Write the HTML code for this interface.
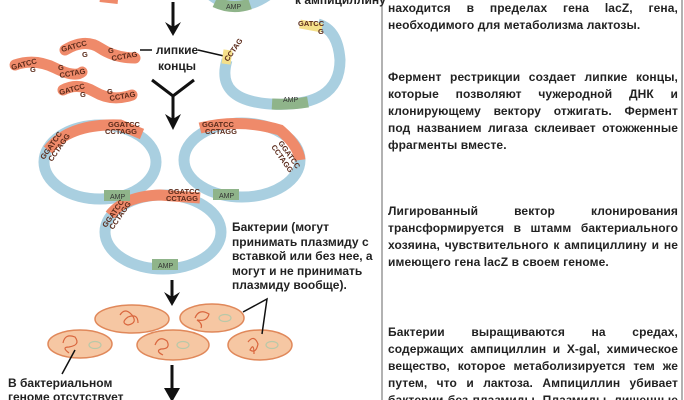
<!DOCTYPE html>
<html><head><meta charset="utf-8"><style>
html,body{margin:0;padding:0;background:#fff;width:684px;height:400px;overflow:hidden;position:relative;font-family:"Liberation Sans",sans-serif}
.p{position:absolute;left:388px;width:290px;font-size:12px;font-weight:bold;line-height:17px;color:#222;letter-spacing:0.1px}
.p div{text-align:justify;text-align-last:justify;white-space:nowrap;height:17px}
.p div.e{text-align-last:left}
.l{position:absolute;font-size:12px;font-weight:bold;line-height:15.5px;color:#222}
</style></head><body>
<svg width="684" height="400" style="position:absolute;left:0;top:0" font-family="Liberation Sans, sans-serif">
<line x1="382" y1="0" x2="382" y2="400" stroke="#666" stroke-width="1"/>
<line x1="682" y1="0" x2="682" y2="400" stroke="#666" stroke-width="1"/>
<!-- top partial -->
<path d="M205,-10 Q235,18 268,-5" fill="none" stroke="#a9cfe0" stroke-width="11"/>
<path d="M215,2 Q232,10 250,4" fill="none" stroke="#8fb48a" stroke-width="11"/>
<text x="226" y="9" font-size="7" fill="#333">AMP</text>
<path d="M100,-2 L118,0" stroke="#ef8a6a" stroke-width="8"/>
<text x="295" y="4" font-size="12" font-weight="bold" fill="#222">к ампициллину</text>
<!-- arrows -->
<line x1="173" y1="2" x2="173" y2="28" stroke="#111" stroke-width="3"/>
<path d="M165,22 L173,36 L181,22 L173,27z" fill="#111"/>
<path d="M152,80 L173,96 L194,80" fill="none" stroke="#111" stroke-width="3"/>
<line x1="173" y1="95" x2="173" y2="120" stroke="#111" stroke-width="3"/>
<path d="M165,114 L173,130 L181,114 L173,119z" fill="#111"/>
<line x1="172" y1="280" x2="172" y2="298" stroke="#111" stroke-width="3"/>
<path d="M164,292 L172,306 L180,292 L172,297z" fill="#111"/>
<line x1="172" y1="365" x2="172" y2="395" stroke="#111" stroke-width="3"/>
<path d="M164,388 L172,402 L180,388z" fill="#111"/>
<!-- labels lines -->
<line x1="140" y1="50" x2="152" y2="50" stroke="#111" stroke-width="1.5"/>
<line x1="198" y1="50" x2="224" y2="56" stroke="#111" stroke-width="1.5"/>
<!-- fragments -->
<g fill="none" stroke="#ef8a6a" stroke-width="11" stroke-linecap="round">
<path d="M65,50 Q85,38 100,48 T135,58"/>
<path d="M15,65 Q35,58 55,68 T82,72"/>
<path d="M63,90 Q78,82 95,92 T132,95"/>
</g>
<g font-size="7.5" font-weight="bold" fill="#5a2a1a">
<text x="62" y="52" transform="rotate(-15 62 52)">GATCC</text><text x="82" y="57">G</text>
<text x="108" y="53">G</text><text x="112" y="61" transform="rotate(-10 112 61)">CCTAG</text>
<text x="12" y="70" transform="rotate(-15 12 70)">GATCC</text><text x="30" y="72">G</text>
<text x="58" y="70">G</text><text x="60" y="78" transform="rotate(-10 60 78)">CCTAG</text>
<text x="60" y="95" transform="rotate(-15 60 95)">GATCC</text><text x="80" y="97">G</text>
<text x="107" y="94">G</text><text x="110" y="101" transform="rotate(-10 110 101)">CCTAG</text>
</g>
<!-- open plasmid -->
<path d="M227,60 Q215,100 270,104 Q340,108 340,60 Q338,30 318,24" fill="none" stroke="#a9cfe0" stroke-width="11"/>
<path d="M272,104 Q290,105 308,102" fill="none" stroke="#8fb48a" stroke-width="11"/>
<text x="283" y="102" font-size="7" fill="#333">AMP</text>
<path d="M300,24 L322,28" stroke="#f5e08a" stroke-width="9"/>
<path d="M228,50 L226,64" stroke="#f5e08a" stroke-width="9"/>
<text x="298" y="26" font-size="7.5" font-weight="bold" fill="#5a2a1a">GATCC</text><text x="318" y="34" font-size="7.5" font-weight="bold" fill="#5a2a1a">G</text>
<text x="228" y="62" font-size="7.5" font-weight="bold" fill="#5a2a1a" transform="rotate(-55 228 62)">CCTAG</text>
<!-- closed plasmids -->
<g fill="none" stroke-width="11">
<ellipse cx="100" cy="162" rx="56" ry="37" stroke="#a9cfe0"/>
<path d="M48,150 Q70,123 120,125 L142,134" stroke="#ef8a6a"/>
<ellipse cx="242" cy="160" rx="58" ry="37" stroke="#a9cfe0"/>
<path d="M200,128 Q240,118 280,130 Q298,145 300,160" stroke="#ef8a6a"/>
<ellipse cx="163" cy="232" rx="58" ry="37" stroke="#a9cfe0"/>
<path d="M110,215 Q125,196 160,195 L200,198" stroke="#ef8a6a"/>
</g>
<g fill="#8fb48a"><rect x="104" y="190" width="26" height="11"/><rect x="213" y="189" width="26" height="11"/><rect x="152" y="259" width="26" height="11"/></g>
<g font-size="7" fill="#333"><text x="110" y="199">AMP</text><text x="219" y="198">AMP</text><text x="158" y="268">AMP</text></g>
<g font-size="7.5" font-weight="bold" fill="#5a2a1a">
<text x="108" y="127">GGATCC</text><text x="105" y="134">CCTAGG</text>
<text x="44" y="160" transform="rotate(-55 44 160)">GGATCC</text><text x="52" y="162" transform="rotate(-55 52 162)">CCTAGG</text>
<text x="202" y="127">GGATCC</text><text x="205" y="134">CCTAGG</text>
<text x="278" y="143" transform="rotate(55 278 143)">GGATCC</text><text x="271" y="147" transform="rotate(55 271 147)">CCTAGG</text>
<text x="168" y="194">GGATCC</text><text x="166" y="201">CCTAGG</text>
<text x="106" y="228" transform="rotate(-55 106 228)">GGATCC</text><text x="113" y="230" transform="rotate(-55 113 230)">CCTAGG</text>
</g>
<!-- bacteria -->
<g fill="#f6c7a3" stroke="#e0885a" stroke-width="1.5">
<ellipse cx="132" cy="319" rx="37" ry="14"/><ellipse cx="212" cy="318" rx="32" ry="14"/>
<ellipse cx="80" cy="344" rx="32" ry="14"/><ellipse cx="173" cy="345" rx="36" ry="15"/><ellipse cx="260" cy="345" rx="32" ry="15"/>
</g>
<g fill="none" stroke="#d9663e" stroke-width="1.2">
<path d="M120,315 q5,-8 12,0 q6,8 -4,10 q-8,-2 0,-8 q10,-4 10,6"/>
<path d="M195,318 q4,-10 14,-4 q-2,8 -12,6 q6,4 4,8"/>
<path d="M63,343 q2,-10 12,-6 q6,8 -6,10 q-8,0 0,6"/>
<path d="M155,345 q4,-10 12,-4 q4,8 -6,8 q-6,2 2,6"/>
<path d="M248,342 q6,-8 10,2 q-2,10 -8,6 q4,-8 4,4"/>
</g>
<g fill="none" stroke="#b9c8a8" stroke-width="1.2">
<ellipse cx="225" cy="318" rx="6" ry="3.5"/><ellipse cx="95" cy="345" rx="6" ry="3.5"/><ellipse cx="183" cy="345" rx="6" ry="3.5"/><ellipse cx="272" cy="345" rx="6" ry="3.5"/>
</g>
<path d="M243,312 L267,299 L262,334" fill="none" stroke="#111" stroke-width="1.5"/>
<line x1="75" y1="350" x2="62" y2="374" stroke="#111" stroke-width="1.5"/>
</svg>
<div class="l" style="left:153px;top:43px;text-align:center;width:48px">липкие<br>концы</div>
<div class="l" style="left:232px;top:220px;line-height:14.5px">Бактерии (могут<br>принимать плазмиду с<br>вставкой или без нее, а<br>могут и не принимать<br>плазмиду вообще).</div>
<div class="l" style="left:8px;top:376px;line-height:14px">В бактериальном<br>геноме отсутствует</div>
<div class="p" style="top:0px"><div>находится в пределах гена lacZ, гена,</div><div class="e">необходимого для метаболизма лактозы.</div></div>
<div class="p" style="top:69px"><div>Фермент рестрикции создает липкие концы,</div><div>которые позволяют чужеродной ДНК и</div><div>клонирующему вектору отжигать. Фермент</div><div>под названием лигаза склеивает отожженные</div><div class="e">фрагменты вместе.</div></div>
<div class="p" style="top:203px"><div>Лигированный вектор клонирования</div><div>трансформируется в штамм бактериального</div><div>хозяина, чувствительного к ампициллину и не</div><div class="e">имеющего гена lacZ в своем геноме.</div></div>
<div class="p" style="top:324px"><div>Бактерии выращиваются на средах,</div><div>содержащих ампициллин и X-gal, химическое</div><div>вещество, которое метаболизируется тем же</div><div>путем, что и лактоза. Ампициллин убивает</div><div>бактерии без плазмиды. Плазмиды, лишенные</div></div>
</body></html>
